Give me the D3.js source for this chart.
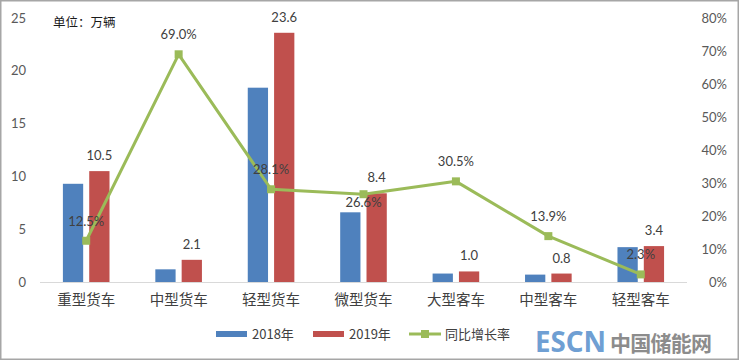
<!DOCTYPE html>
<html><head><meta charset="utf-8">
<script src="https://cdn.jsdelivr.net/npm/d3@7"></script>
<style>body{margin:0;background:#fff}svg{display:block}</style>
</head><body><svg id="c" width="740" height="361"></svg>
<script>
const categories = ["重型货车","中型货车","轻型货车","微型货车","大型客车","中型客车","轻型客车"];
const series = ["2018年","2019年"];
const values2018 = [9.3, 1.2, 18.4, 6.6, 0.8, 0.7, 3.3];
const values2019 = [10.5, 2.1, 23.6, 8.4, 1.0, 0.8, 3.4];
const growth = [12.5, 69.0, 28.1, 26.6, 30.5, 13.9, 2.3];
const growthLabelBelow = [false, false, false, true, false, false, false];
const leftTicks = [0,5,10,15,20,25];
const rightTicks = [0,10,20,30,40,50,60,70,80];
const lineName = "同比增长率";
const unitLabel = "单位：万辆";

const colors = {"2018年":"#4F81BD","2019年":"#C0504D"};
const green = "#9BBB59";
const numFont = "Lato, 'Noto Sans CJK SC', sans-serif";
const cjkFont = "'Noto Sans CJK SC', sans-serif";

const svg = d3.select("#c");
svg.append("rect").attr("x",0.75).attr("y",0.75).attr("width",737.5).attr("height",358.5)
  .attr("fill","#fff").attr("stroke","#a6a6a6").attr("stroke-width",1.5);

const pL = 40, pR = 687, pT = 18, pB = 282;
const x = d3.scaleBand().domain(categories).range([pL,pR]);
const x1 = d3.scaleBand().domain(series).range([22.9, 69.5]).paddingInner(0.23);
const y = d3.scaleLinear().domain([0,25]).range([pB,pT]);
const y2 = d3.scaleLinear().domain([0,80]).range([pB,pT]);

// left axis
const ga = svg.append("g").attr("transform",`translate(${pL-14},0)`)
  .call(d3.axisLeft(y).tickValues(leftTicks).tickSize(0).tickPadding(0));
ga.select(".domain").remove();
ga.selectAll("text").attr("font-family",numFont).attr("font-size",13).attr("fill","#595959");

// right axis
const gr = svg.append("g").attr("transform",`translate(727,0)`)
  .call(d3.axisLeft(y2).tickValues(rightTicks).tickFormat(d=>d+"%").tickSize(0).tickPadding(0));
gr.select(".domain").remove();
gr.selectAll("text").attr("font-family",numFont).attr("font-size",13).attr("fill","#595959");

// baseline
svg.append("line").attr("x1",pL).attr("x2",pR).attr("y1",pB+0.5).attr("y2",pB+0.5)
  .attr("stroke","#d9d9d9").attr("stroke-width",1);

// bars
const data = categories.map((c,i)=>({c, i, v:{"2018年":values2018[i],"2019年":values2019[i]}, g:growth[i]}));
const grp = svg.append("g").selectAll("g").data(data).join("g")
  .attr("transform",d=>`translate(${x(d.c)},0)`);
grp.selectAll("rect").data(d=>series.map(s=>({s,v:d.v[s]}))).join("rect")
  .attr("x",d=>x1(d.s)).attr("width",x1.bandwidth())
  .attr("y",d=>y(d.v)).attr("height",d=>pB-y(d.v))
  .attr("fill",d=>colors[d.s]);
// 2019 value labels
grp.append("text").attr("x",x1("2019年")+x1.bandwidth()/2)
  .attr("y",d=>y(d.v["2019年"])-11)
  .attr("text-anchor","middle").attr("font-family",numFont).attr("font-size",13).attr("fill","#404040")
  .text(d=>d.v["2019年"].toFixed(1));

// x labels
svg.append("g").selectAll("text").data(categories).join("text")
  .attr("x",d=>x(d)+x.bandwidth()/2).attr("y",305)
  .attr("text-anchor","middle").attr("font-family",cjkFont).attr("font-size",14.5).attr("fill","#404040")
  .text(d=>d);

// line
const cx = d=>x(d.c)+x.bandwidth()/2;
svg.append("path").datum(data)
  .attr("d",d3.line().x(cx).y(d=>y2(d.g)))
  .attr("fill","none").attr("stroke",green).attr("stroke-width",3).attr("stroke-linejoin","round");
svg.append("g").selectAll("rect").data(data).join("rect")
  .attr("x",d=>cx(d)-4).attr("y",d=>y2(d.g)-4).attr("width",8).attr("height",8).attr("fill",green);
svg.append("g").selectAll("text").data(data).join("text")
  .attr("x",cx).attr("y",d=>growthLabelBelow[d.i] ? y2(d.g)+13 : y2(d.g)-15)
  .attr("text-anchor","middle").attr("font-family",numFont).attr("font-size",13).attr("fill","#404040")
  .text(d=>d.g.toFixed(1)+"%");

// unit label
svg.append("text").attr("x",53).attr("y",27).attr("font-family",cjkFont).attr("font-size",12.5)
  .attr("fill","#1a1a1a").text(unitLabel);

// legend
const lg = svg.append("g");
const legItems = [
  {t:series[0], x:216, type:"bar", col:colors[series[0]]},
  {t:series[1], x:313, type:"bar", col:colors[series[1]]},
  {t:lineName, x:409, type:"line", col:green}
];
legItems.forEach(it=>{
  if(it.type==="bar"){
    lg.append("rect").attr("x",it.x).attr("y",331).attr("width",31).attr("height",6).attr("fill",it.col);
  } else {
    lg.append("line").attr("x1",it.x).attr("x2",it.x+32).attr("y1",334).attr("y2",334)
      .attr("stroke",it.col).attr("stroke-width",3);
    lg.append("rect").attr("x",it.x+12).attr("y",330).attr("width",8).attr("height",8).attr("fill",it.col);
  }
  lg.append("text").attr("x",it.x+36).attr("y",339).attr("font-family",cjkFont).attr("font-size",13)
    .attr("fill","#404040").text(it.t);
});

// watermark
svg.append("text").attr("x",535).attr("y",352).attr("font-family","'Noto Sans', sans-serif")
  .attr("font-weight","bold").attr("font-size",28).attr("textLength",71).attr("lengthAdjust","spacingAndGlyphs")
  .attr("fill","#6f9fd3").text("ESCN");
svg.append("text").attr("x",610).attr("y",351).attr("font-family",cjkFont)
  .attr("font-weight","bold").attr("font-size",21).attr("textLength",102).attr("lengthAdjust","spacing")
  .attr("fill","#8c8c8c").text("中国储能网");
</script></body></html>
